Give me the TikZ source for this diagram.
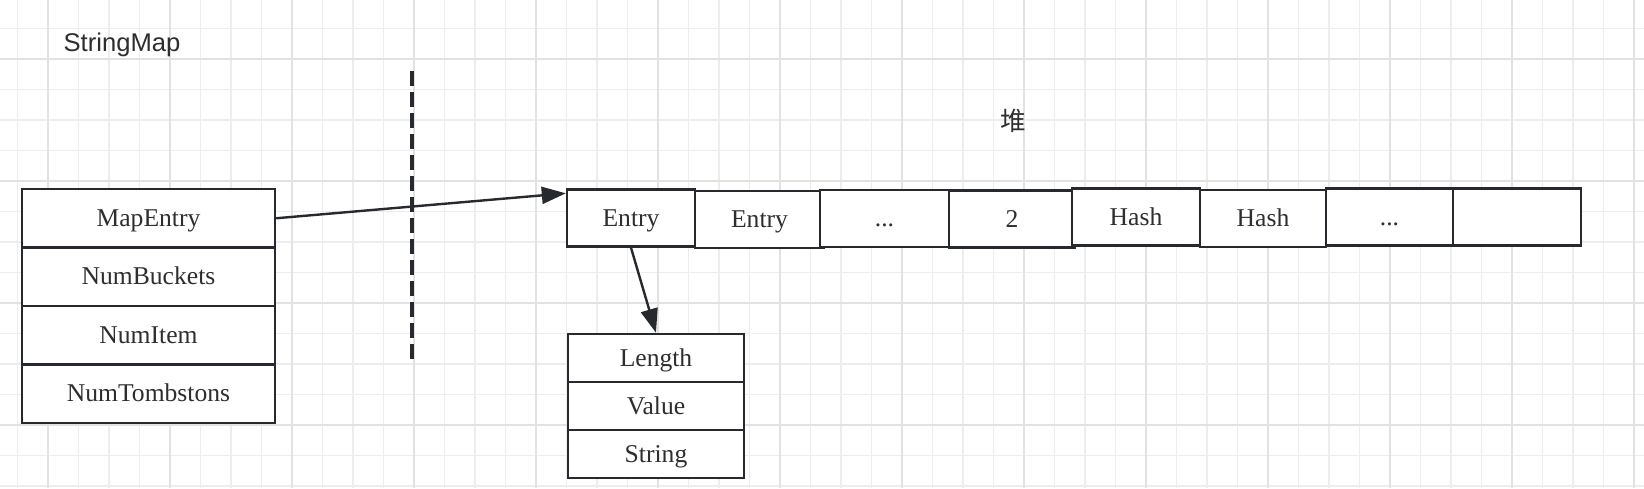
\documentclass[tikz,border=0pt]{standalone}
\usepackage{fontspec}
\setmainfont{Liberation Serif}
\newfontfamily\sansf{Liberation Sans}
\newfontfamily\cjk{Noto Sans CJK SC}
\usetikzlibrary{arrows.meta}
\definecolor{strk}{HTML}{262A2E}
\definecolor{txt}{HTML}{2E2E2E}
\definecolor{gminor}{HTML}{EDEDED}
\definecolor{gmajor}{HTML}{E2E2E2}
\tikzset{
  gridminor/.style={draw=gminor, line width=0.7pt},
  gridmajor/.style={draw=gmajor, line width=1pt},
  cell/.style={draw=strk, line width=1.2pt, fill=white, inner sep=0pt, text=txt,
    text height=10pt, text depth=2pt,
    font=\fontsize{12.8pt}{15pt}\selectfont},
  leftcell/.style={cell, minimum width=126.5pt, minimum height=29.25pt},
  topcell/.style={cell, minimum height=28.5pt},
  lowcell/.style={cell, minimum width=88pt, minimum height=24pt},
  conn/.style={draw=strk, line width=1.2pt, -{Triangle[length=12pt,width=8.5pt]}},
  sep/.style={draw=strk, line width=1.6pt, dash pattern=on 7.5pt off 3pt},
  label/.style={text=txt, inner sep=0pt, font=\fontsize{12.8pt}{15pt}\selectfont}
}
\begin{document}
\begin{tikzpicture}[x=0.5pt,y=-0.5pt]
\useasboundingbox (0,0) rectangle (1644,488);
\fill[white] (0,0) rectangle (1644,488);
\foreach \i in {0,...,53} \draw[gridminor] ({17.5+30.5*\i},0) -- ({17.5+30.5*\i},488);
\foreach \j in {1,...,16} \draw[gridminor] (0,{-2+30.5*\j}) -- (1644,{-2+30.5*\j});
\foreach \i in {0,...,13} \draw[gridmajor] ({48+122*\i},0) -- ({48+122*\i},488);
\foreach \j in {0,...,3} \draw[gridmajor] (0,{59+122*\j}) -- (1644,{59+122*\j});

\node[label, font=\sansf\fontsize{12.8pt}{15pt}\selectfont] (title) at (122,45) {StringMap};
\node[label, font=\cjk\fontsize{12.8pt}{15pt}\selectfont] (heap) at (1013,121) {堆};

\coordinate (sepTop) at (412,71);
\coordinate (sepBot) at (412,360);
\draw[sep] (sepTop) -- (sepBot);

\node[leftcell] (mapentry) at (148.5,218.25) {MapEntry};
\node[leftcell] (numbuckets) at (148.5,276.75) {NumBuckets};
\node[leftcell] (numitem) at (148.5,335.25) {NumItem};
\node[leftcell] (numtomb) at (148.5,393.75) {NumTombstons};

\node[topcell, minimum width=64pt] (e1) at (631,218) {Entry};
\node[topcell, minimum width=64.5pt] (e2) at (759.5,219.5) {Entry};
\node[topcell, minimum width=64.5pt] (e3) at (884.5,218.5) {...};
\node[topcell, minimum width=63pt] (e4) at (1012,219) {2};
\node[topcell, minimum width=64pt] (e5) at (1136,217) {Hash};
\node[topcell, minimum width=63pt] (e6) at (1263,218.5) {Hash};
\node[topcell, minimum width=63.5pt] (e7) at (1389.5,217) {...};
\node[topcell, minimum width=64pt] (e8) at (1517,217) {};

\node[lowcell] (length) at (656,358) {Length};
\node[lowcell] (value) at (656,406) {Value};
\node[lowcell] (string) at (656,454) {String};

\draw[conn] (mapentry.east) -- ([yshift=-2.5pt]e1.north west);
\draw[conn] (e1.south) -- (length.north);
\end{tikzpicture}
\end{document}
